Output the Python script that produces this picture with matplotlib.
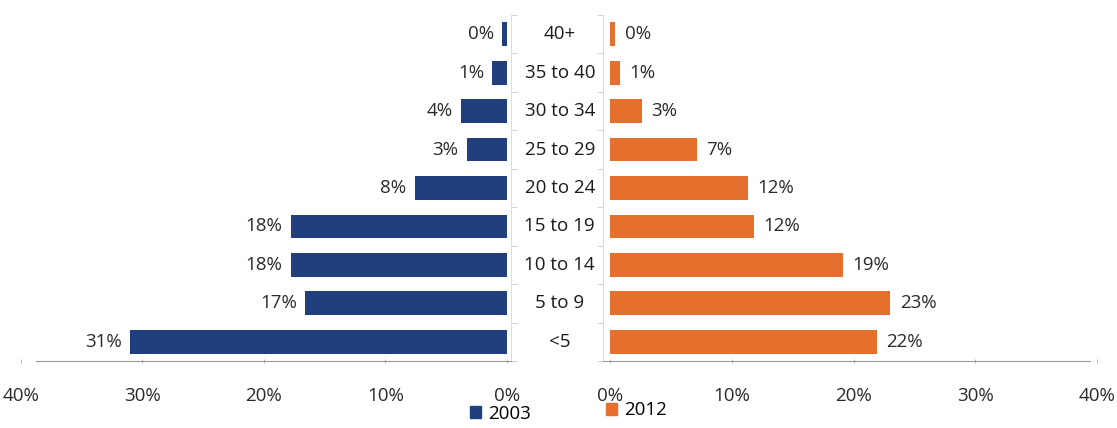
import matplotlib.pyplot as plt
from matplotlib.patches import Patch
import numpy as np

plt.rcParams['font.family'] = ['Open Sans', 'DejaVu Sans']

categories = ['<5', '5 to 9', '10 to 14', '15 to 19', '20 to 24',
              '25 to 29', '30 to 34', '35 to 40', '40+']
vals_2003 = [31.0, 16.6, 17.8, 17.8, 7.6, 3.3, 3.8, 1.2, 0.4]
vals_2012 = [21.9, 23.0, 19.1, 11.8, 11.3, 7.1, 2.6, 0.8, 0.4]
labels_2003 = ['31%', '17%', '18%', '18%', '8%', '3%', '4%', '1%', '0%']
labels_2012 = ['22%', '23%', '19%', '12%', '12%', '7%', '3%', '1%', '0%']
xticks = [0, 10, 20, 30, 40]
xticklabels = ['0%', '10%', '20%', '30%', '40%']

blue = '#213f7c'
orange = '#e56f2c'
fs = 13.5

fig = plt.figure(figsize=(11.17, 4.28), dpi=100)
ax_l = fig.add_axes([0.0188, 0.1565, 0.4388, 0.8084])
ax_r = fig.add_axes([0.5398, 0.1565, 0.4422, 0.8084])
ax_r.patch.set_alpha(0)
ax_l.set_zorder(2)
ax_l.patch.set_alpha(0)

y = np.arange(len(categories))

bars_l = ax_l.barh(y, vals_2003, height=0.62, color=blue)
bars_r = ax_r.barh(y, vals_2012, height=0.62, color=orange)

ax_l.set_xlim(40, -0.35)
ax_r.set_xlim(-0.6, 40)
for ax in (ax_l, ax_r):
    ax.set_ylim(-0.5, len(categories) - 0.5)
    ax.set_xticks(xticks)
    ax.set_xticklabels(xticklabels, fontsize=fs, color='#2a2a2a')
    ax.tick_params(axis='x', length=3, direction='inout', color='#bbbbbb', pad=17)
    ax.set_yticks([])
    ax.set_yticks(np.arange(len(categories) + 1) - 0.5, minor=True)
    ax.tick_params(axis='y', which='minor', length=4, color='#cccccc')
    for s in ax.spines.values():
        s.set_visible(False)
    ax.spines['bottom'].set_visible(True)
    ax.spines['bottom'].set_color('#999999')
    ax.spines['bottom'].set_linewidth(0.8)

ax_l.spines['bottom'].set_bounds(-0.35, 38.8)
ax_r.spines['bottom'].set_bounds(-0.6, 39.4)

ax_l.spines['right'].set_visible(True)
ax_l.spines['right'].set_color('#dddddd')
ax_l.yaxis.tick_right()
ax_l.tick_params(axis='y', which='minor', right=True, left=False)
ax_r.spines['left'].set_visible(True)
ax_r.spines['left'].set_color('#dddddd')

ax_l.bar_label(bars_l, labels=labels_2003, padding=6, fontsize=fs, color='#2a2a2a')
ax_r.bar_label(bars_r, labels=labels_2012, padding=7, fontsize=fs, color='#2a2a2a')

# category labels in the gap between the panels
trans = ax_l.get_yaxis_transform()
for yi, cat in zip(y, categories):
    ax_l.annotate(cat, xy=(1, yi), xycoords=trans, xytext=(35, 0),
                  textcoords='offset points', ha='center', va='center',
                  fontsize=13.5, color='#1a1a1a', annotation_clip=False)

ax_l.legend(handles=[Patch(color=blue, label='2003')], loc='upper left',
            bbox_to_anchor=(0.9, -0.105), frameon=False, fontsize=fs,
            handlelength=0.6, handleheight=0.6, handletextpad=0.4,
            borderaxespad=0)
ax_r.legend(handles=[Patch(color=orange, label='2012')], loc='upper left',
            bbox_to_anchor=(-0.01, -0.095), frameon=False, fontsize=fs,
            handlelength=0.6, handleheight=0.6, handletextpad=0.4,
            borderaxespad=0)

fig.savefig('out.png', dpi=100)
